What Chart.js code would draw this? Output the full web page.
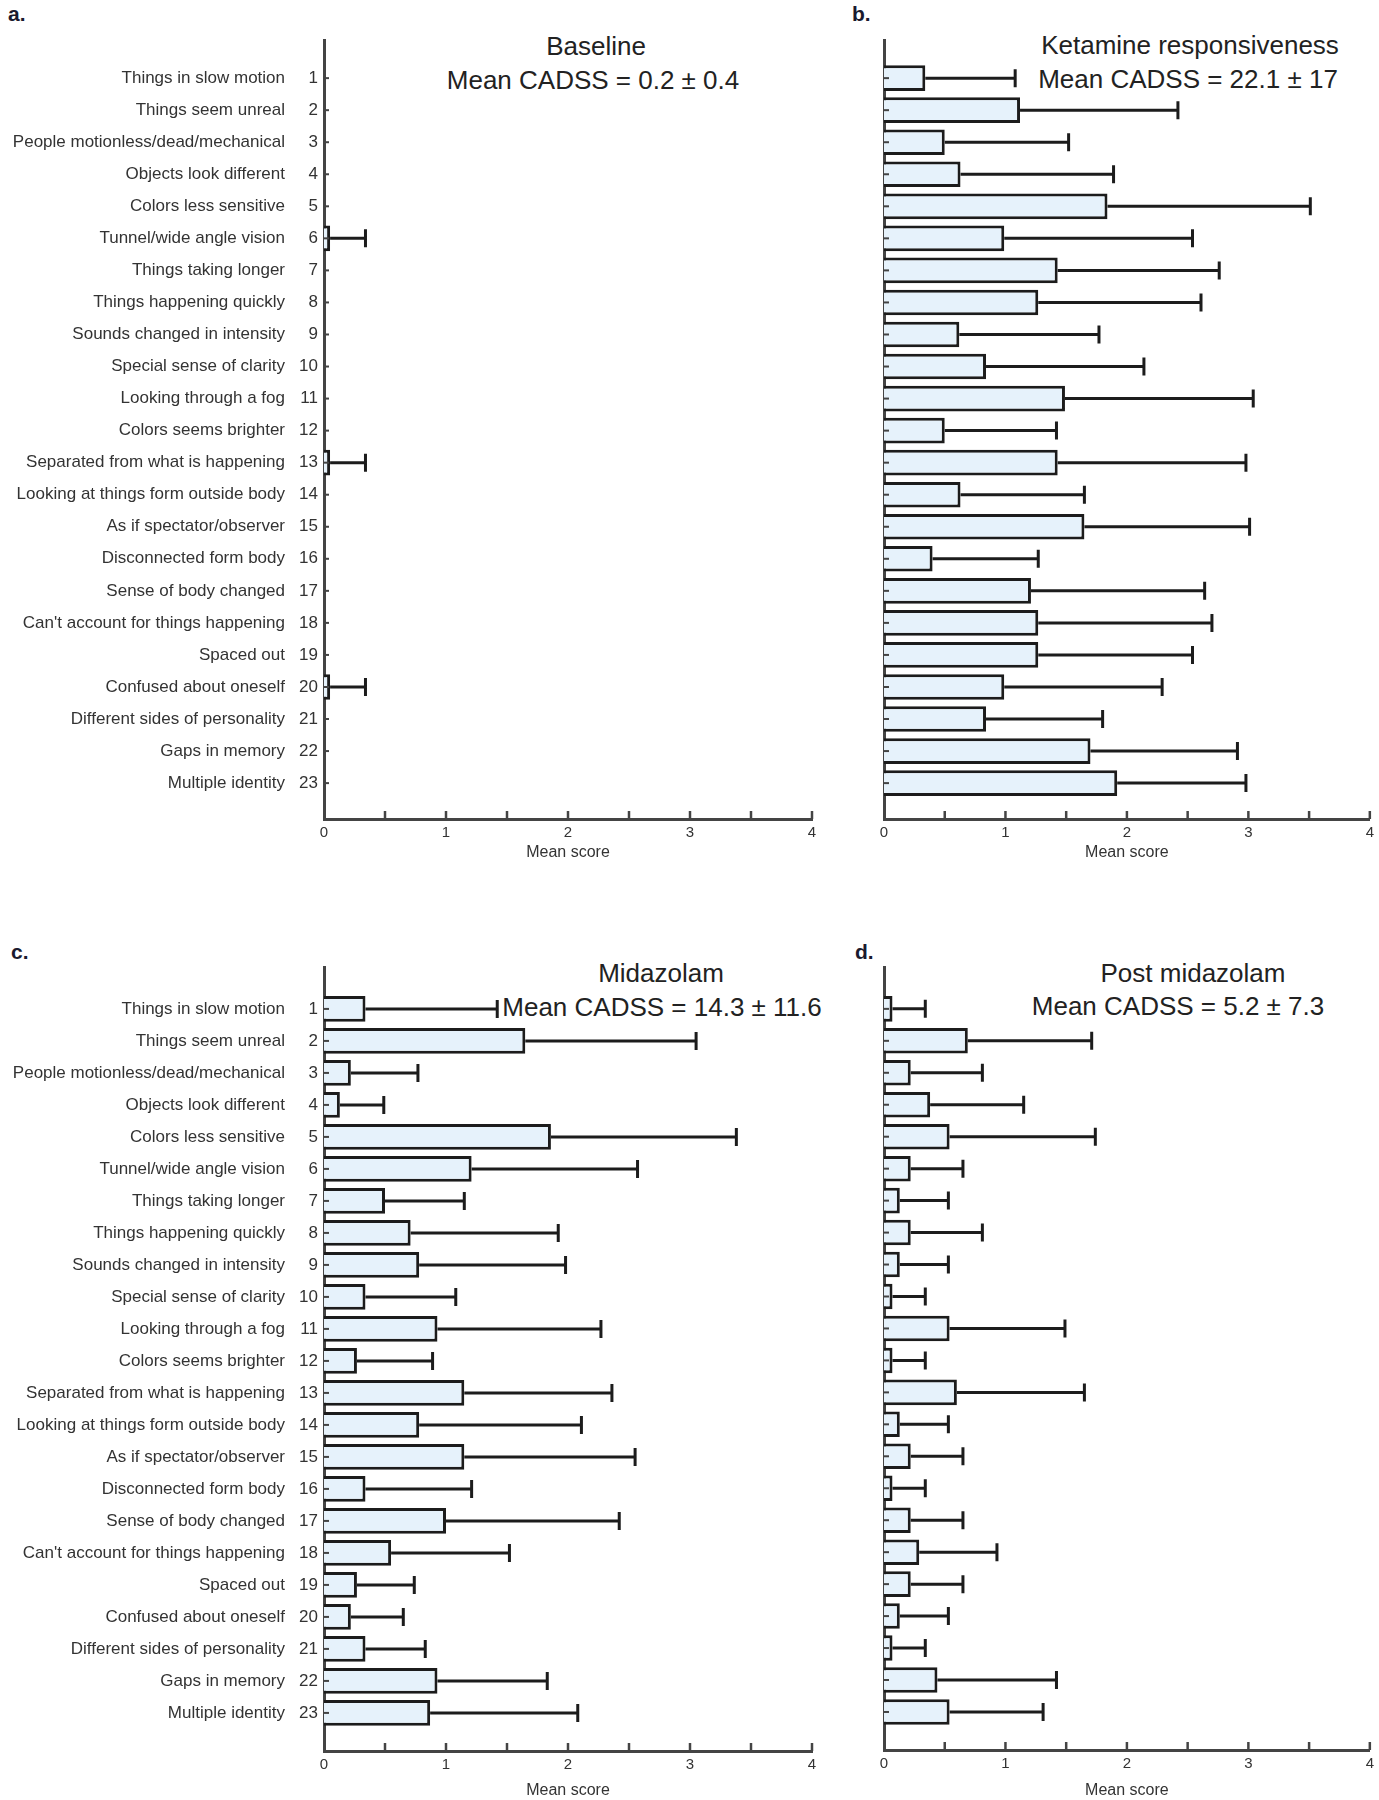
<!DOCTYPE html>
<html>
<head>
<meta charset="utf-8">
<script src="https://cdn.jsdelivr.net/npm/chart.js@4.4.1/dist/chart.umd.min.js"></script>
<style>
  body { margin: 0; background: #fff; width: 1379px; height: 1800px; position: relative; overflow: hidden;
         font-family: "Liberation Sans", Arial, sans-serif; }
  .panel { position: absolute; }
  .letter { position: absolute; font-weight: bold; font-size: 21px; line-height: 21px; color: #1a1a2e; }
  .ttl { position: absolute; transform: translate(-50%, -50%); font-size: 26px; line-height: 28px; color: #222; white-space: nowrap; }
</style>
</head>
<body>
<div class="letter" style="left:8px;top:3px">a.</div>
<div class="letter" style="left:852px;top:3px">b.</div>
<div class="letter" style="left:11px;top:941px">c.</div>
<div class="letter" style="left:855px;top:941px">d.</div>

<div class="ttl" style="left:596px;top:46px">Baseline</div>
<div class="ttl" style="left:593px;top:80px">Mean CADSS = 0.2 ± 0.4</div>
<div class="ttl" style="left:1190px;top:45px">Ketamine responsiveness</div>
<div class="ttl" style="left:1188px;top:79px">Mean CADSS = 22.1 ± 17</div>
<div class="ttl" style="left:661px;top:973px">Midazolam</div>
<div class="ttl" style="left:662px;top:1007px">Mean CADSS = 14.3 ± 11.6</div>
<div class="ttl" style="left:1193px;top:973px">Post midazolam</div>
<div class="ttl" style="left:1178px;top:1006px">Mean CADSS = 5.2 ± 7.3</div>

<div class="panel" style="left:0;top:0"><canvas id="chartA" width="840" height="862"></canvas></div>
<div class="panel" style="left:840px;top:0"><canvas id="chartB" width="539" height="862"></canvas></div>
<div class="panel" style="left:0;top:920px"><canvas id="chartC" width="840" height="880"></canvas></div>
<div class="panel" style="left:840px;top:920px"><canvas id="chartD" width="539" height="880"></canvas></div>

<script>
/* --------------- Items (CADSS questions) --------------------- */
const itemNumbers = [1, 2, 3, 4, 5, 6, 7, 8, 9, 10, 11, 12, 13, 14, 15, 16, 17, 18, 19, 20, 21, 22, 23];
const itemLabels = [
    "Things in slow motion",
    "Things seem unreal",
    "People motionless/dead/mechanical",
    "Objects look different",
    "Colors less sensitive",
    "Tunnel/wide angle vision",
    "Things taking longer",
    "Things happening quickly",
    "Sounds changed in intensity",
    "Special sense of clarity",
    "Looking through a fog",
    "Colors seems brighter",
    "Separated from what is happening",
    "Looking at things form outside body",
    "As if spectator/observer",
    "Disconnected form body",
    "Sense of body changed",
    "Can't account for things happening",
    "Spaced out",
    "Confused about oneself",
    "Different sides of personality",
    "Gaps in memory",
    "Multiple identity",
];

/* --------------- Mean score and SD per condition --------------------- */
const baselineMean = [0, 0, 0, 0, 0, 0.05, 0, 0, 0, 0, 0, 0, 0.05, 0, 0, 0, 0, 0, 0, 0.05, 0, 0, 0];
const baselineSd   = [0, 0, 0, 0, 0, 0.29, 0, 0, 0, 0, 0, 0, 0.29, 0, 0, 0, 0, 0, 0, 0.29, 0, 0, 0];

const ketamineMean = [0.34, 1.12, 0.50, 0.63, 1.84, 0.99, 1.43, 1.27, 0.62, 0.84, 1.49, 0.50, 1.43, 0.63, 1.65, 0.40, 1.21, 1.27, 1.27, 0.99, 0.84, 1.70, 1.92];
const ketamineSd   = [0.74, 1.30, 1.02, 1.26, 1.67, 1.55, 1.33, 1.34, 1.15, 1.30, 1.55, 0.92, 1.55, 1.02, 1.36, 0.87, 1.43, 1.43, 1.27, 1.30, 0.96, 1.21, 1.06];

const midazolamMean = [0.34, 1.65, 0.22, 0.13, 1.86, 1.21, 0.50, 0.71, 0.78, 0.34, 0.93, 0.27, 1.15, 0.78, 1.15, 0.34, 1.00, 0.55, 0.27, 0.22, 0.34, 0.93, 0.87];
const midazolamSd   = [1.08, 1.40, 0.55, 0.36, 1.52, 1.36, 0.65, 1.21, 1.20, 0.74, 1.34, 0.62, 1.21, 1.33, 1.40, 0.87, 1.42, 0.97, 0.47, 0.43, 0.49, 0.90, 1.21];

const postMean = [0.07, 0.69, 0.22, 0.38, 0.54, 0.22, 0.13, 0.22, 0.13, 0.07, 0.54, 0.07, 0.60, 0.13, 0.22, 0.07, 0.22, 0.29, 0.22, 0.13, 0.07, 0.44, 0.54];
const postSd   = [0.27, 1.02, 0.59, 0.77, 1.20, 0.43, 0.40, 0.59, 0.40, 0.27, 0.95, 0.27, 1.05, 0.40, 0.43, 0.27, 0.43, 0.64, 0.43, 0.40, 0.27, 0.98, 0.77];

const xTickStep = 0.5;

/* --------------- Error bars (positive side only) --------------------- */
const errorBars = {
    id: "errorBars",
    afterDatasetsDraw(chart) {
        const { ctx, scales: { x, y } } = chart;
        const ds = chart.data.datasets[0];
        ctx.save();
        ctx.strokeStyle = "#1c1c1c";
        ctx.lineWidth = 3;
        ds.data.forEach((p, i) => {
            const sd = ds.sd[i];
            if (!sd) return;
            const x0 = x.getPixelForValue(p.x);
            const x1 = x.getPixelForValue(p.x + sd);
            const py = y.getPixelForValue(p.y);
            ctx.beginPath();
            ctx.moveTo(x0, py);
            ctx.lineTo(x1, py);
            ctx.moveTo(x1, py - 9);
            ctx.lineTo(x1, py + 9);
            ctx.stroke();
        });
        ctx.restore();
    },
};

/* --------------- Tick marks pointing into the plot --------------------- */
const innerTicks = {
    id: "innerTicks",
    afterDraw(chart) {
        const { ctx, chartArea, scales: { x, y } } = chart;
        ctx.save();
        ctx.strokeStyle = "#444";
        ctx.lineWidth = 2.5;
        x.ticks.forEach((t) => {
            if (t.value === 0) return;
            const px = x.getPixelForValue(t.value);
            ctx.beginPath();
            ctx.moveTo(px, chartArea.bottom);
            ctx.lineTo(px, chartArea.bottom - 8);
            ctx.stroke();
        });
        ctx.lineWidth = 2;
        itemNumbers.forEach((v) => {
            const py = y.getPixelForValue(v);
            ctx.beginPath();
            ctx.moveTo(chartArea.left, py);
            ctx.lineTo(chartArea.left + 5, py);
            ctx.stroke();
        });
        ctx.restore();
    },
};

/* --------------- One panel --------------------- */
function makePanel(id, means, sds, opts) {
    const setItemTicks = (s) => { s.ticks = itemNumbers.map((v) => ({ value: v })); };
    const scales = {
        x: {
            type: "linear", position: "bottom", min: 0, max: 4,
            afterFit: (s) => { s.height = opts.axisH; },
            grid: { display: false, drawTicks: false },
            border: { display: true, color: "#444", width: 3 },
            ticks: {
                stepSize: xTickStep, autoSkip: false, maxRotation: 0, padding: 5,
                color: "#333", font: { size: 15 },
                callback: (v) => (Number.isInteger(v) ? v : ""),
            },
            title: { display: true, text: "Mean score", color: "#333", font: { size: 16 }, padding: 0 },
        },
        y: {
            type: "linear", position: "left", reverse: true, weight: 0, offset: false,
            min: opts.yMin, max: opts.yMax,
            afterBuildTicks: setItemTicks,
            afterFit: (s) => { s.width = opts.numW; },
            grid: { display: false, drawTicks: false, offset: false },
            border: { display: true, color: "#444", width: 3 },
            ticks: {
                display: opts.labels, autoSkip: false, padding: 6,
                color: "#333", font: { size: 17 },
                callback: (v, i) => itemNumbers[i],
            },
        },
    };
    if (opts.labels) {
        scales.yText = {
            type: "linear", position: "left", reverse: true, weight: 1, offset: false,
            min: opts.yMin, max: opts.yMax,
            afterBuildTicks: setItemTicks,
            afterFit: (s) => { s.width = 290; },
            grid: { display: false, drawTicks: false, offset: false },
            border: { display: false },
            ticks: {
                autoSkip: false, padding: 5, color: "#333", font: { size: 17 },
                callback: (v, i) => itemLabels[i],
            },
        };
    }
    return new Chart(document.getElementById(id), {
        type: "bar",
        plugins: [errorBars, innerTicks],
        data: {
            datasets: [{
                data: means.map((m, i) => ({ x: m, y: itemNumbers[i] })),
                sd: sds,
                xAxisID: "x",
                yAxisID: "y",
                backgroundColor: "#e6f2fb",
                borderColor: "#1c1c1c",
                borderWidth: 3,
                categoryPercentage: 1,
                barPercentage: 0.8,
            }],
        },
        options: {
            indexAxis: "y",
            responsive: false,
            animation: false,
            events: [],
            layout: { padding: { top: opts.padTop, right: opts.padRight, left: 0, bottom: 0 } },
            plugins: { legend: { display: false }, tooltip: { enabled: false } },
            scales: scales,
        },
    });
}

Chart.defaults.font.family = '"Liberation Sans", Arial, sans-serif';

makePanel("chartA", baselineMean, baselineSd,
    { labels: true, numW: 34, yMin: -0.19, yMax: 24.12, padTop: 40, padRight: 28, axisH: 43 });
makePanel("chartB", ketamineMean, ketamineSd,
    { labels: false, numW: 44, yMin: -0.19, yMax: 24.12, padTop: 40, padRight: 7, axisH: 43 });
makePanel("chartC", midazolamMean, midazolamSd,
    { labels: true, numW: 34, yMin: -0.31, yMax: 24.19, padTop: 47, padRight: 28, axisH: 49 });
makePanel("chartD", postMean, postSd,
    { labels: false, numW: 44, yMin: -0.31, yMax: 24.19, padTop: 47, padRight: 7, axisH: 50 });
</script>
</body>
</html>
